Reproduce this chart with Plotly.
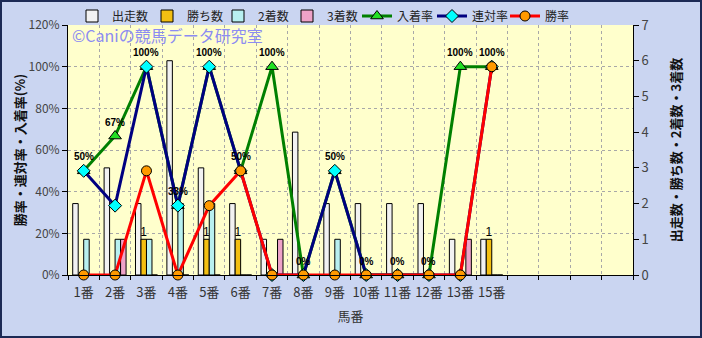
import plotly.graph_objects as go

# ---- data ----
horses = ["1番", "2番", "3番", "4番", "5番", "6番", "7番", "8番", "9番", "10番", "11番", "12番", "13番", "15番"]
starts = [2, 3, 2, 6, 3, 2, 1, 4, 2, 2, 2, 2, 1, 1]
wins   = [0, 0, 1, 0, 1, 1, 0, 0, 0, 0, 0, 0, 0, 1]
second = [1, 1, 1, 2, 2, 0, 0, 0, 1, 0, 0, 0, 0, 0]
third  = [0, 1, 0, 0, 0, 0, 1, 0, 0, 0, 0, 0, 1, 0]
win_rate   = [0, 0, 50, 0, 33.3, 50, 0, 0, 0, 0, 0, 0, 0, 100]
rentai     = [50, 33.3, 100, 33.3, 100, 50, 0, 0, 50, 0, 0, 0, 0, 100]
nyuchaku   = [50, 66.7, 100, 33.3, 100, 50, 100, 0, 50, 0, 0, 0, 100, 100]
n_slots = 18

L, R, T, B = 68, 69, 25, 63
W, H = 702, 338
pw, ph = W - L - R, H - T - B

# legend entry left positions (px from figure left)
legend_px = [72, 147, 218, 287, 357, 432, 505]

xs = list(range(len(horses)))
fig = go.Figure()

bar_specs = [
    ("出走数", starts, "#f2f2f2"),
    ("勝ち数", wins, "#f3bf12"),
    ("2着数", second, "#b8f0f0"),
    ("3着数", third, "#eea2c8"),
]
line_specs = [
    ("入着率", nyuchaku, "#008000", "triangle-up", "#22e022", 11),
    ("連対率", rentai, "#000080", "diamond", "#00ffff", 10),
    ("勝率", win_rate, "#ff0000", "circle", "#ff9a00", 10),
]
legend_ids = ["legend"] + ["legend%d" % i for i in range(2, 8)]

for i, (name, vals, col) in enumerate(bar_specs):
    txt = None
    if name == "勝ち数":
        txt = [str(v) if v > 0 else "" for v in vals]
    fig.add_trace(go.Bar(
        x=xs, y=vals, name=name, yaxis="y", legend=legend_ids[i],
        marker=dict(color=col, line=dict(color="#000000", width=1)),
        text=txt, textposition="outside", constraintext="none",
        textfont=dict(size=12, color="#000000", family="Liberation Sans"),
        cliponaxis=False,
    ))

for j, (name, vals, lc, sym, mc, ms) in enumerate(line_specs):
    fig.add_trace(go.Scatter(
        x=xs, y=vals, name=name, yaxis="y2", mode="lines+markers", legend=legend_ids[4 + j],
        line=dict(color=lc, width=3),
        marker=dict(symbol=sym, color=mc, size=ms, line=dict(color="#000000", width=1)),
        cliponaxis=False,
    ))

# percentage labels (入着率)
for x, v in zip(xs, nyuchaku):
    fig.add_annotation(x=x, y=v, xref="x", yref="y2", text="<b>%d%%</b>" % round(v),
                       showarrow=False, yshift=14,
                       font=dict(size=10, color="#000000", family="Liberation Sans"))

# watermark
fig.add_annotation(x=2 / pw, y=1 - 10 / ph, xref="paper", yref="paper", xanchor="left", yanchor="middle",
                   text="©Caniの競馬データ研究室", showarrow=False,
                   font=dict(size=16, color="#8c8cf2", family="Noto Sans CJK JP"))

# outer frame
fig.add_shape(type="rect", xref="paper", yref="paper",
              x0=(-L + 1) / pw, x1=1 + (R - 1) / pw, y0=(-B + 1) / ph, y1=1 + (T - 1) / ph,
              line=dict(color="#1c2a55", width=2), layer="above")

legend_style = dict(orientation="h", xanchor="left", y=1 + 9 / ph, yanchor="middle",
                    bgcolor="rgba(0,0,0,0)", font=dict(size=12, color="#222222"), itemwidth=30)
legends = {lid: dict(legend_style, x=(px - L) / pw) for lid, px in zip(legend_ids, legend_px)}

grid_pct = [20, 40, 60, 80, 100]
fig.update_layout(
    width=W, height=H,
    margin=dict(l=L, r=R, t=T, b=B, autoexpand=False),
    paper_bgcolor="#cad5f1",
    plot_bgcolor="#ffffcc",
    barmode="group", bargap=0.3, bargroupgap=0,
    font=dict(family="Noto Sans CJK JP", size=12, color="#333333"),
    showlegend=True,
    xaxis=dict(
        range=[-0.5, n_slots - 0.5], tickmode="array", tickvals=xs, ticktext=horses,
        showgrid=False, zeroline=False, ticks="", ticklabelstandoff=5,
        showline=True, linecolor="#000000", linewidth=1,
        tickfont=dict(size=13, color="#333333"),
        title=dict(text="馬番", font=dict(size=13, color="#333333"), standoff=12),
        minor=dict(tickmode="linear", tick0=0.5, dtick=1, showgrid=True, gridcolor="#a8a8a8",
                   griddash="dot", gridwidth=1, ticks="outside", ticklen=4, tickcolor="#000000"),
    ),
    yaxis=dict(
        side="right", range=[0, 7], dtick=1, showgrid=False, zeroline=False,
        showline=True, linecolor="#000000", linewidth=1, ticks="outside", ticklen=5,
        tickcolor="#000000", tickfont=dict(size=13, color="#444444"),
        title=dict(text="<b>出走数・勝ち数・2着数・3着数</b>", font=dict(size=13, color="#111111"), standoff=24),
        minor=dict(tickmode="array", tickvals=[p * 7 / 120 for p in grid_pct], showgrid=True,
                   gridcolor="#a8a8a8", griddash="dot", gridwidth=1, ticks=""),
    ),
    yaxis2=dict(
        overlaying="y", side="left", range=[0, 120], dtick=20, ticksuffix="%",
        showgrid=False, zeroline=False, showline=True, linecolor="#000000", linewidth=1,
        ticks="outside", ticklen=5, tickcolor="#000000", tickfont=dict(size=12, color="#444444"),
        title=dict(text="<b>勝率・連対率・入着率(%)</b>", font=dict(size=13, color="#111111"), standoff=0),
    ),
    **legends,
)

fig.write_html("out.html")
